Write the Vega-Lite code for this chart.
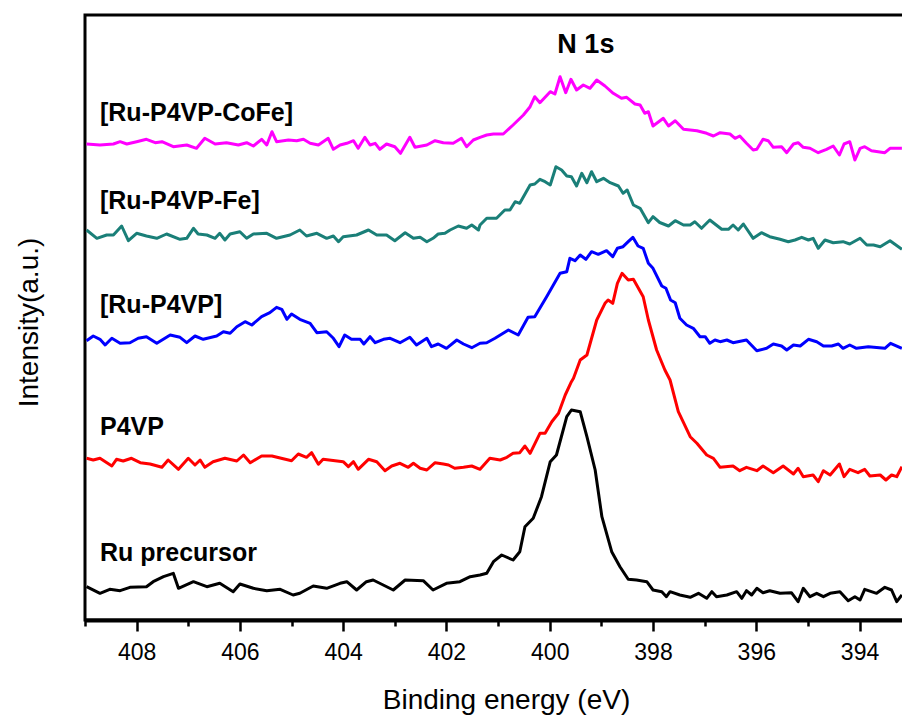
{
"$schema": "https://vega.github.io/schema/vega-lite/v6.json",
"width": 820, "height": 605,
"autosize": {"type": "none"},
"padding": {"left": 85, "top": 15, "right": 0, "bottom": 100},
"background": "white",
"config": {"view": {"stroke": "black", "strokeWidth": 3}, "font": "Liberation Sans"},
"encoding": {
 "x": {"field": "E", "type": "quantitative",
  "scale": {"domain": [393.12, 409], "reverse": true, "nice": false, "zero": false},
  "axis": {"title": "Binding energy (eV)", "values": [394,395,396,397,398,399,400,401,402,403,404,405,406,407,408,409],
   "labelExpr": "datum.value % 2 === 0 ? datum.label : ''",
   "tickSize": {"condition": {"test": "datum.value % 2 === 0", "value": 11}, "value": 6},
   "tickWidth": 2.5, "tickColor": "black", "domainColor": "black", "domainWidth": 4,
   "labelFont": "Liberation Sans", "labelFontSize": 23, "labelColor": "black", "labelPadding": 10,
   "labelFlush": false, "labelOverlap": false, "grid": false,
   "titleFont": "Liberation Sans", "titleFontSize": 28, "titleFontWeight": "normal", "titleColor": "black",
   "titleX": 421, "titleY": 88, "titleBaseline": "alphabetic", "titleAlign": "center"}},
 "y": {"field": "I", "type": "quantitative",
  "scale": {"domain": [0, 605], "nice": false, "zero": false},
  "axis": {"title": "Intensity(a.u.)", "labels": false, "ticks": false, "domain": false, "grid": false,
   "titleFont": "Liberation Sans", "titleFontSize": 28, "titleFontWeight": "normal", "titleColor": "black",
   "titleX": -56, "titleY": 307, "titleAngle": 270, "titleAlign": "center", "titleBaseline": "middle"}}
},
"layer": [
{
 "data": {"values": [
{"s":"a","E":408.97,"I":33.3},{"s":"a","E":408.71,"I":26.7},{"s":"a","E":408.52,"I":30.7},{"s":"a","E":408.32,"I":29.3},{"s":"a","E":408.13,"I":32.7},{"s":"a","E":407.81,"I":33.3},{"s":"a","E":407.68,"I":38.3},{"s":"a","E":407.48,"I":43.3},{"s":"a","E":407.29,"I":46.7},{"s":"a","E":407.19,"I":31.7},{"s":"a","E":406.90,"I":38.3},{"s":"a","E":406.64,"I":33.3},{"s":"a","E":406.39,"I":36.7},{"s":"a","E":406.13,"I":28.3},{"s":"a","E":406.00,"I":36},{"s":"a","E":405.74,"I":31.7},{"s":"a","E":405.48,"I":29.3},{"s":"a","E":405.22,"I":30.7},{"s":"a","E":404.97,"I":25},{"s":"a","E":404.84,"I":26.7},{"s":"a","E":404.58,"I":34},{"s":"a","E":404.32,"I":31.7},{"s":"a","E":404.06,"I":36.7},{"s":"a","E":403.93,"I":38.3},{"s":"a","E":403.74,"I":30},{"s":"a","E":403.55,"I":38.3},{"s":"a","E":403.42,"I":40},{"s":"a","E":403.03,"I":30},{"s":"a","E":402.80,"I":40},{"s":"a","E":402.45,"I":39.3},{"s":"a","E":402.26,"I":30},{"s":"a","E":402.00,"I":36.7},{"s":"a","E":401.74,"I":38.3},{"s":"a","E":401.54,"I":43.3},{"s":"a","E":401.35,"I":45},{"s":"a","E":401.22,"I":46.7},{"s":"a","E":401.09,"I":58.3},{"s":"a","E":400.93,"I":65},{"s":"a","E":400.71,"I":60},{"s":"a","E":400.58,"I":68.3},{"s":"a","E":400.48,"I":93.3},{"s":"a","E":400.32,"I":101.7},{"s":"a","E":400.16,"I":123.3},{"s":"a","E":399.99,"I":158.3},{"s":"a","E":399.87,"I":165},{"s":"a","E":399.67,"I":203.3},{"s":"a","E":399.58,"I":210},{"s":"a","E":399.41,"I":208.3},{"s":"a","E":399.28,"I":183.3},{"s":"a","E":399.12,"I":150},{"s":"a","E":398.99,"I":103.3},{"s":"a","E":398.80,"I":68.3},{"s":"a","E":398.64,"I":53.3},{"s":"a","E":398.48,"I":40.7},{"s":"a","E":398.32,"I":40},{"s":"a","E":398.12,"I":38.3},{"s":"a","E":398.00,"I":30},{"s":"a","E":397.83,"I":28.3},{"s":"a","E":397.74,"I":23.3},{"s":"a","E":397.67,"I":28.3},{"s":"a","E":397.48,"I":25},{"s":"a","E":397.28,"I":22.7},{"s":"a","E":397.12,"I":26.7},{"s":"a","E":396.96,"I":21.7},{"s":"a","E":396.86,"I":28.3},{"s":"a","E":396.77,"I":23.3},{"s":"a","E":396.57,"I":25},{"s":"a","E":396.38,"I":28.3},{"s":"a","E":396.28,"I":21.7},{"s":"a","E":396.19,"I":29.3},{"s":"a","E":396.09,"I":25},{"s":"a","E":395.99,"I":31.7},{"s":"a","E":395.87,"I":27.3},{"s":"a","E":395.74,"I":29.3},{"s":"a","E":395.54,"I":26.7},{"s":"a","E":395.32,"I":27.3},{"s":"a","E":395.19,"I":18.3},{"s":"a","E":395.09,"I":31.7},{"s":"a","E":394.96,"I":23.3},{"s":"a","E":394.83,"I":26.7},{"s":"a","E":394.70,"I":23.3},{"s":"a","E":394.57,"I":26.7},{"s":"a","E":394.38,"I":28.3},{"s":"a","E":394.22,"I":19.3},{"s":"a","E":394.09,"I":23.3},{"s":"a","E":393.99,"I":20},{"s":"a","E":393.90,"I":30.7},{"s":"a","E":393.67,"I":26.7},{"s":"a","E":393.51,"I":32.7},{"s":"a","E":393.38,"I":30},{"s":"a","E":393.28,"I":18.3},{"s":"a","E":393.18,"I":25},
{"s":"b","E":408.97,"I":161.7},{"s":"b","E":408.84,"I":160},{"s":"b","E":408.71,"I":161.7},{"s":"b","E":408.48,"I":154},{"s":"b","E":408.39,"I":160.7},{"s":"b","E":408.26,"I":159},{"s":"b","E":408.10,"I":161.7},{"s":"b","E":407.93,"I":157.3},{"s":"b","E":407.74,"I":156},{"s":"b","E":407.51,"I":152.7},{"s":"b","E":407.39,"I":160},{"s":"b","E":407.19,"I":150.7},{"s":"b","E":407.00,"I":161.7},{"s":"b","E":406.87,"I":155},{"s":"b","E":406.77,"I":160},{"s":"b","E":406.68,"I":152.7},{"s":"b","E":406.52,"I":158.3},{"s":"b","E":406.29,"I":161.7},{"s":"b","E":406.06,"I":159},{"s":"b","E":405.93,"I":165},{"s":"b","E":405.80,"I":157.3},{"s":"b","E":405.58,"I":164},{"s":"b","E":405.38,"I":164},{"s":"b","E":405.00,"I":159.3},{"s":"b","E":404.87,"I":166},{"s":"b","E":404.71,"I":162.7},{"s":"b","E":404.61,"I":167.3},{"s":"b","E":404.48,"I":155.7},{"s":"b","E":404.39,"I":160.7},{"s":"b","E":404.00,"I":158.3},{"s":"b","E":403.90,"I":153.3},{"s":"b","E":403.80,"I":158.3},{"s":"b","E":403.71,"I":150.7},{"s":"b","E":403.51,"I":160.7},{"s":"b","E":403.35,"I":158.3},{"s":"b","E":403.19,"I":149.3},{"s":"b","E":403.06,"I":154},{"s":"b","E":402.90,"I":156.7},{"s":"b","E":402.74,"I":152.7},{"s":"b","E":402.64,"I":156.7},{"s":"b","E":402.51,"I":151.7},{"s":"b","E":402.38,"I":150},{"s":"b","E":402.22,"I":157.3},{"s":"b","E":402.06,"I":156},{"s":"b","E":401.96,"I":155},{"s":"b","E":401.84,"I":151.7},{"s":"b","E":401.67,"I":152.7},{"s":"b","E":401.51,"I":154},{"s":"b","E":401.35,"I":150.7},{"s":"b","E":401.16,"I":161.7},{"s":"b","E":400.96,"I":160},{"s":"b","E":400.83,"I":162.7},{"s":"b","E":400.71,"I":166.7},{"s":"b","E":400.58,"I":167.3},{"s":"b","E":400.48,"I":174},{"s":"b","E":400.38,"I":166.7},{"s":"b","E":400.19,"I":186.7},{"s":"b","E":400.09,"I":186.7},{"s":"b","E":399.96,"I":198.3},{"s":"b","E":399.83,"I":206.7},{"s":"b","E":399.70,"I":225},{"s":"b","E":399.58,"I":238.3},{"s":"b","E":399.54,"I":241.7},{"s":"b","E":399.41,"I":260},{"s":"b","E":399.28,"I":265},{"s":"b","E":399.09,"I":300},{"s":"b","E":398.93,"I":316.7},{"s":"b","E":398.87,"I":320},{"s":"b","E":398.78,"I":316.7},{"s":"b","E":398.69,"I":336.7},{"s":"b","E":398.60,"I":346.7},{"s":"b","E":398.48,"I":340},{"s":"b","E":398.38,"I":340.7},{"s":"b","E":398.19,"I":323.3},{"s":"b","E":398.09,"I":300},{"s":"b","E":397.93,"I":270},{"s":"b","E":397.77,"I":250},{"s":"b","E":397.67,"I":240},{"s":"b","E":397.51,"I":208.3},{"s":"b","E":397.28,"I":183.3},{"s":"b","E":397.15,"I":176.7},{"s":"b","E":396.96,"I":165},{"s":"b","E":396.83,"I":161.7},{"s":"b","E":396.70,"I":152.7},{"s":"b","E":396.45,"I":154},{"s":"b","E":396.32,"I":149.3},{"s":"b","E":396.19,"I":152.7},{"s":"b","E":395.99,"I":149.3},{"s":"b","E":395.87,"I":154},{"s":"b","E":395.67,"I":147.3},{"s":"b","E":395.48,"I":154},{"s":"b","E":395.28,"I":146},{"s":"b","E":395.19,"I":151.7},{"s":"b","E":395.09,"I":143.3},{"s":"b","E":394.90,"I":145},{"s":"b","E":394.80,"I":138.3},{"s":"b","E":394.70,"I":149.3},{"s":"b","E":394.57,"I":145},{"s":"b","E":394.39,"I":156},{"s":"b","E":394.30,"I":143.3},{"s":"b","E":394.19,"I":150.7},{"s":"b","E":394.03,"I":147.3},{"s":"b","E":393.90,"I":150.7},{"s":"b","E":393.80,"I":144},{"s":"b","E":393.60,"I":145},{"s":"b","E":393.49,"I":140},{"s":"b","E":393.38,"I":145},{"s":"b","E":393.28,"I":143.3},{"s":"b","E":393.18,"I":153.3},
{"s":"c","E":408.97,"I":279.3},{"s":"c","E":408.84,"I":284},{"s":"c","E":408.71,"I":280.7},{"s":"c","E":408.61,"I":275},{"s":"c","E":408.48,"I":281.7},{"s":"c","E":408.32,"I":276.7},{"s":"c","E":408.13,"I":277.3},{"s":"c","E":407.97,"I":281.7},{"s":"c","E":407.81,"I":283.3},{"s":"c","E":407.61,"I":276.7},{"s":"c","E":407.35,"I":285},{"s":"c","E":407.16,"I":282.7},{"s":"c","E":407.03,"I":277.3},{"s":"c","E":406.87,"I":284},{"s":"c","E":406.71,"I":280.7},{"s":"c","E":406.45,"I":284},{"s":"c","E":406.32,"I":288.3},{"s":"c","E":406.19,"I":286.7},{"s":"c","E":406.06,"I":293.3},{"s":"c","E":405.90,"I":298.3},{"s":"c","E":405.77,"I":295},{"s":"c","E":405.58,"I":303.3},{"s":"c","E":405.42,"I":307.3},{"s":"c","E":405.29,"I":312.7},{"s":"c","E":405.19,"I":310.7},{"s":"c","E":405.09,"I":300.7},{"s":"c","E":405.00,"I":306},{"s":"c","E":404.84,"I":300.7},{"s":"c","E":404.64,"I":296.7},{"s":"c","E":404.51,"I":287.3},{"s":"c","E":404.32,"I":288.3},{"s":"c","E":404.19,"I":281.7},{"s":"c","E":404.08,"I":273.3},{"s":"c","E":403.97,"I":285},{"s":"c","E":403.84,"I":280.7},{"s":"c","E":403.67,"I":280.7},{"s":"c","E":403.60,"I":276},{"s":"c","E":403.48,"I":283.3},{"s":"c","E":403.38,"I":277.3},{"s":"c","E":403.22,"I":280.7},{"s":"c","E":403.09,"I":281.7},{"s":"c","E":402.90,"I":277.3},{"s":"c","E":402.71,"I":282.7},{"s":"c","E":402.58,"I":275},{"s":"c","E":402.38,"I":281.7},{"s":"c","E":402.29,"I":273.3},{"s":"c","E":402.16,"I":276},{"s":"c","E":402.00,"I":271.7},{"s":"c","E":401.80,"I":280},{"s":"c","E":401.67,"I":276},{"s":"c","E":401.51,"I":272.3},{"s":"c","E":401.35,"I":276.7},{"s":"c","E":401.22,"I":277.3},{"s":"c","E":401.06,"I":281.7},{"s":"c","E":400.80,"I":290},{"s":"c","E":400.61,"I":285},{"s":"c","E":400.42,"I":302.7},{"s":"c","E":400.29,"I":303.3},{"s":"c","E":400.06,"I":323.3},{"s":"c","E":399.80,"I":346.7},{"s":"c","E":399.67,"I":348.3},{"s":"c","E":399.61,"I":361.7},{"s":"c","E":399.51,"I":359.3},{"s":"c","E":399.41,"I":365},{"s":"c","E":399.30,"I":360.7},{"s":"c","E":399.19,"I":368.3},{"s":"c","E":399.06,"I":365.7},{"s":"c","E":398.90,"I":369.3},{"s":"c","E":398.78,"I":363.3},{"s":"c","E":398.69,"I":371.7},{"s":"c","E":398.58,"I":373.3},{"s":"c","E":398.48,"I":378.3},{"s":"c","E":398.39,"I":382.7},{"s":"c","E":398.29,"I":374},{"s":"c","E":398.19,"I":371.7},{"s":"c","E":398.09,"I":356.7},{"s":"c","E":398.00,"I":351.7},{"s":"c","E":397.83,"I":334},{"s":"c","E":397.75,"I":331.7},{"s":"c","E":397.66,"I":320},{"s":"c","E":397.57,"I":317.3},{"s":"c","E":397.48,"I":301.7},{"s":"c","E":397.35,"I":295},{"s":"c","E":397.22,"I":291.7},{"s":"c","E":397.09,"I":283.3},{"s":"c","E":396.99,"I":283.3},{"s":"c","E":396.90,"I":276.7},{"s":"c","E":396.80,"I":280},{"s":"c","E":396.70,"I":278.3},{"s":"c","E":396.57,"I":280},{"s":"c","E":396.45,"I":277.3},{"s":"c","E":396.19,"I":280},{"s":"c","E":395.99,"I":269.3},{"s":"c","E":395.80,"I":271.7},{"s":"c","E":395.67,"I":276},{"s":"c","E":395.51,"I":274},{"s":"c","E":395.41,"I":270},{"s":"c","E":395.28,"I":275},{"s":"c","E":395.15,"I":274},{"s":"c","E":394.99,"I":280.7},{"s":"c","E":394.83,"I":278.3},{"s":"c","E":394.70,"I":274},{"s":"c","E":394.54,"I":274},{"s":"c","E":394.41,"I":276},{"s":"c","E":394.32,"I":271.7},{"s":"c","E":394.19,"I":275},{"s":"c","E":394.06,"I":271.7},{"s":"c","E":393.83,"I":273.3},{"s":"c","E":393.51,"I":271.7},{"s":"c","E":393.40,"I":276.7},{"s":"c","E":393.18,"I":271.7},
{"s":"d","E":408.97,"I":390},{"s":"d","E":408.77,"I":381.7},{"s":"d","E":408.58,"I":385},{"s":"d","E":408.45,"I":385},{"s":"d","E":408.29,"I":394},{"s":"d","E":408.16,"I":379.3},{"s":"d","E":408.00,"I":386.7},{"s":"d","E":407.81,"I":384},{"s":"d","E":407.61,"I":381.7},{"s":"d","E":407.42,"I":386},{"s":"d","E":407.16,"I":380.7},{"s":"d","E":407.03,"I":381.7},{"s":"d","E":406.90,"I":391.7},{"s":"d","E":406.81,"I":386},{"s":"d","E":406.64,"I":385},{"s":"d","E":406.48,"I":381.7},{"s":"d","E":406.39,"I":386.7},{"s":"d","E":406.29,"I":380},{"s":"d","E":406.19,"I":386},{"s":"d","E":406.00,"I":388.3},{"s":"d","E":405.87,"I":381.7},{"s":"d","E":405.74,"I":386},{"s":"d","E":405.48,"I":386.7},{"s":"d","E":405.29,"I":381.7},{"s":"d","E":405.03,"I":385},{"s":"d","E":404.84,"I":390},{"s":"d","E":404.71,"I":384},{"s":"d","E":404.51,"I":386.7},{"s":"d","E":404.32,"I":381.7},{"s":"d","E":404.19,"I":384},{"s":"d","E":404.09,"I":378.3},{"s":"d","E":404.00,"I":383.3},{"s":"d","E":403.74,"I":385},{"s":"d","E":403.51,"I":390},{"s":"d","E":403.35,"I":385},{"s":"d","E":403.16,"I":385},{"s":"d","E":403.00,"I":379.3},{"s":"d","E":402.80,"I":387.3},{"s":"d","E":402.64,"I":381.7},{"s":"d","E":402.51,"I":382.7},{"s":"d","E":402.38,"I":378.3},{"s":"d","E":402.26,"I":381.7},{"s":"d","E":402.16,"I":386},{"s":"d","E":402.03,"I":386.7},{"s":"d","E":401.93,"I":390},{"s":"d","E":401.77,"I":394},{"s":"d","E":401.61,"I":391.7},{"s":"d","E":401.51,"I":395},{"s":"d","E":401.38,"I":390},{"s":"d","E":401.35,"I":395},{"s":"d","E":401.22,"I":401.7},{"s":"d","E":401.03,"I":401.7},{"s":"d","E":400.87,"I":410},{"s":"d","E":400.77,"I":410},{"s":"d","E":400.67,"I":418.3},{"s":"d","E":400.58,"I":416.7},{"s":"d","E":400.38,"I":435},{"s":"d","E":400.29,"I":436},{"s":"d","E":400.19,"I":440.7},{"s":"d","E":400.09,"I":438.3},{"s":"d","E":399.99,"I":435},{"s":"d","E":399.88,"I":453.3},{"s":"d","E":399.77,"I":450},{"s":"d","E":399.67,"I":444},{"s":"d","E":399.58,"I":443.3},{"s":"d","E":399.48,"I":434},{"s":"d","E":399.38,"I":446.7},{"s":"d","E":399.28,"I":437.3},{"s":"d","E":399.19,"I":448.3},{"s":"d","E":399.09,"I":438.3},{"s":"d","E":398.96,"I":441.7},{"s":"d","E":398.83,"I":437.3},{"s":"d","E":398.67,"I":434},{"s":"d","E":398.58,"I":426.7},{"s":"d","E":398.50,"I":430},{"s":"d","E":398.38,"I":415},{"s":"d","E":398.25,"I":411.7},{"s":"d","E":398.09,"I":397.3},{"s":"d","E":398.00,"I":403.3},{"s":"d","E":397.87,"I":397.5},{"s":"d","E":397.70,"I":394},{"s":"d","E":397.57,"I":399.3},{"s":"d","E":397.41,"I":395},{"s":"d","E":397.28,"I":395},{"s":"d","E":397.19,"I":398.3},{"s":"d","E":397.06,"I":391.7},{"s":"d","E":396.90,"I":400},{"s":"d","E":396.67,"I":390.7},{"s":"d","E":396.54,"I":390.7},{"s":"d","E":396.45,"I":395},{"s":"d","E":396.35,"I":390},{"s":"d","E":396.25,"I":396},{"s":"d","E":396.06,"I":381.7},{"s":"d","E":395.90,"I":387.3},{"s":"d","E":395.74,"I":383.3},{"s":"d","E":395.54,"I":380.7},{"s":"d","E":395.38,"I":378.3},{"s":"d","E":395.25,"I":380},{"s":"d","E":395.12,"I":382.7},{"s":"d","E":394.99,"I":380},{"s":"d","E":394.90,"I":381.7},{"s":"d","E":394.80,"I":371.7},{"s":"d","E":394.67,"I":380},{"s":"d","E":394.51,"I":377.3},{"s":"d","E":394.32,"I":378.3},{"s":"d","E":394.19,"I":376},{"s":"d","E":393.99,"I":381.7},{"s":"d","E":393.86,"I":375},{"s":"d","E":393.73,"I":375},{"s":"d","E":393.60,"I":373.3},{"s":"d","E":393.41,"I":379.3},{"s":"d","E":393.18,"I":370.7},
{"s":"e","E":408.97,"I":476},{"s":"e","E":408.71,"I":475},{"s":"e","E":408.45,"I":476},{"s":"e","E":408.32,"I":478.3},{"s":"e","E":408.19,"I":476},{"s":"e","E":408.00,"I":478.3},{"s":"e","E":407.81,"I":480.7},{"s":"e","E":407.64,"I":477.3},{"s":"e","E":407.51,"I":478.3},{"s":"e","E":407.29,"I":473.3},{"s":"e","E":407.03,"I":475},{"s":"e","E":406.84,"I":471.7},{"s":"e","E":406.68,"I":481.7},{"s":"e","E":406.48,"I":476},{"s":"e","E":406.26,"I":477.3},{"s":"e","E":406.03,"I":475},{"s":"e","E":405.87,"I":477.3},{"s":"e","E":405.74,"I":474},{"s":"e","E":405.58,"I":480.7},{"s":"e","E":405.48,"I":475},{"s":"e","E":405.38,"I":488.3},{"s":"e","E":405.29,"I":478.3},{"s":"e","E":405.06,"I":480},{"s":"e","E":404.90,"I":479.3},{"s":"e","E":404.77,"I":480.7},{"s":"e","E":404.64,"I":476.7},{"s":"e","E":404.48,"I":475},{"s":"e","E":404.29,"I":481.7},{"s":"e","E":404.19,"I":470.7},{"s":"e","E":404.06,"I":475},{"s":"e","E":403.93,"I":476.7},{"s":"e","E":403.80,"I":479.3},{"s":"e","E":403.71,"I":471.7},{"s":"e","E":403.58,"I":482.7},{"s":"e","E":403.48,"I":475},{"s":"e","E":403.38,"I":476.7},{"s":"e","E":403.29,"I":470.7},{"s":"e","E":403.16,"I":476},{"s":"e","E":403.00,"I":473.3},{"s":"e","E":402.89,"I":466.7},{"s":"e","E":402.71,"I":482.7},{"s":"e","E":402.61,"I":472.7},{"s":"e","E":402.38,"I":475},{"s":"e","E":402.22,"I":479.3},{"s":"e","E":402.06,"I":477.3},{"s":"e","E":401.87,"I":476.7},{"s":"e","E":401.71,"I":481.7},{"s":"e","E":401.61,"I":473.3},{"s":"e","E":401.48,"I":480},{"s":"e","E":401.35,"I":482.7},{"s":"e","E":401.22,"I":485},{"s":"e","E":401.09,"I":486},{"s":"e","E":400.90,"I":486},{"s":"e","E":400.71,"I":495},{"s":"e","E":400.51,"I":505},{"s":"e","E":400.38,"I":513.3},{"s":"e","E":400.29,"I":523.3},{"s":"e","E":400.19,"I":517.3},{"s":"e","E":399.99,"I":528.3},{"s":"e","E":399.90,"I":526},{"s":"e","E":399.80,"I":543.3},{"s":"e","E":399.69,"I":527.3},{"s":"e","E":399.59,"I":540.7},{"s":"e","E":399.48,"I":530},{"s":"e","E":399.35,"I":535},{"s":"e","E":399.22,"I":531.7},{"s":"e","E":399.09,"I":540},{"s":"e","E":398.93,"I":534},{"s":"e","E":398.77,"I":526.7},{"s":"e","E":398.61,"I":521.7},{"s":"e","E":398.51,"I":522.7},{"s":"e","E":398.35,"I":516},{"s":"e","E":398.25,"I":515},{"s":"e","E":398.16,"I":506.7},{"s":"e","E":398.09,"I":508.3},{"s":"e","E":398.00,"I":494},{"s":"e","E":397.80,"I":501.7},{"s":"e","E":397.70,"I":494},{"s":"e","E":397.57,"I":499.3},{"s":"e","E":397.41,"I":490.7},{"s":"e","E":397.15,"I":489.3},{"s":"e","E":396.96,"I":486.7},{"s":"e","E":396.83,"I":484},{"s":"e","E":396.70,"I":487.3},{"s":"e","E":396.51,"I":486},{"s":"e","E":396.41,"I":481.7},{"s":"e","E":396.32,"I":484},{"s":"e","E":396.19,"I":476.7},{"s":"e","E":396.06,"I":470},{"s":"e","E":395.99,"I":470.7},{"s":"e","E":395.87,"I":480.7},{"s":"e","E":395.77,"I":479.3},{"s":"e","E":395.67,"I":472.7},{"s":"e","E":395.51,"I":473.3},{"s":"e","E":395.41,"I":467.3},{"s":"e","E":395.28,"I":476},{"s":"e","E":395.19,"I":477.3},{"s":"e","E":395.09,"I":472.7},{"s":"e","E":394.96,"I":471.7},{"s":"e","E":394.80,"I":467.3},{"s":"e","E":394.64,"I":470.7},{"s":"e","E":394.51,"I":474},{"s":"e","E":394.39,"I":465},{"s":"e","E":394.30,"I":476},{"s":"e","E":394.19,"I":478.3},{"s":"e","E":394.09,"I":460},{"s":"e","E":393.99,"I":471.7},{"s":"e","E":393.90,"I":473.3},{"s":"e","E":393.77,"I":469.3},{"s":"e","E":393.51,"I":467.3},{"s":"e","E":393.41,"I":471.7},{"s":"e","E":393.18,"I":471.7}
 ]},
 "mark": {"type": "line", "strokeWidth": 3, "strokeJoin": "round"},
 "encoding": {
  "color": {"field": "s", "type": "nominal", "legend": null,
   "scale": {"domain": ["a","b","c","d","e"], "range": ["#000000","#ff0000","#0000ff","#1a7f78","#ff00ff"]}}
 }
},
{
 "data": {"values": [
  {"t": "[Ru-P4VP-CoFe]", "E": 408.71, "I": 499},
  {"t": "[Ru-P4VP-Fe]", "E": 408.71, "I": 411},
  {"t": "[Ru-P4VP]", "E": 408.71, "I": 307},
  {"t": "P4VP", "E": 408.71, "I": 185},
  {"t": "Ru precursor", "E": 408.71, "I": 59}
 ]},
 "mark": {"type": "text", "align": "left", "baseline": "alphabetic", "font": "Liberation Sans", "fontSize": 25, "fontWeight": "bold", "color": "black"},
 "encoding": {"text": {"field": "t", "type": "nominal"}}
},
{
 "data": {"values": [{"t": "N 1s", "E": 399.30, "I": 567}]},
 "mark": {"type": "text", "align": "center", "baseline": "alphabetic", "font": "Liberation Sans", "fontSize": 27, "fontWeight": "bold", "color": "black"},
 "encoding": {"text": {"field": "t", "type": "nominal"}}
}
]
}
